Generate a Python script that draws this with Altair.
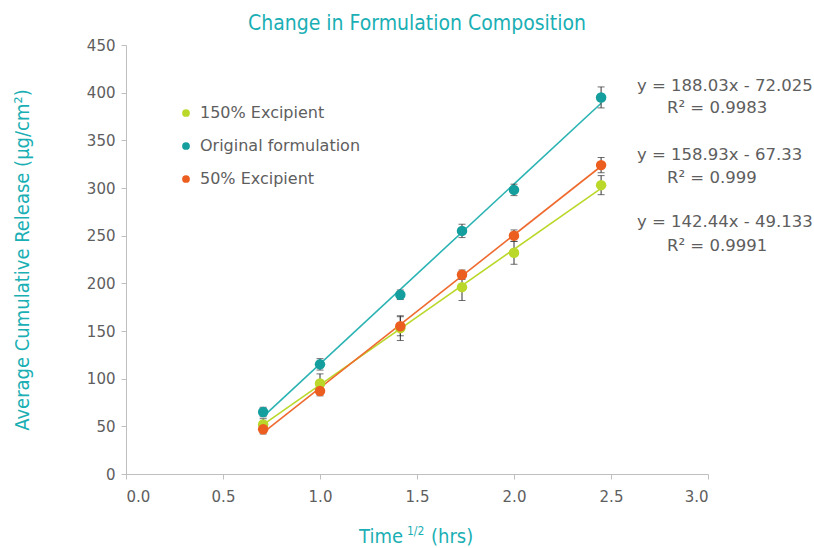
import altair as alt
import pandas as pd

# ---- data ----
time_sqrt = [0.707, 1.0, 1.414, 1.732, 2.0, 2.449]
series_names = ["150% Excipient", "Original formulation", "50% Excipient"]
exc150_vals = [52, 95, 153, 196, 232, 303]
exc150_err = [6, 10, 13, 14, 12, 10]
original_vals = [65, 115, 188, 255, 298, 395]
original_err = [5, 6, 5, 7, 6, 11]
exc50_vals = [47, 87, 155, 209, 250, 324]
exc50_err = [5, 5, 10, 5, 6, 8]
series_colors = ["#B9D82A", "#159E9E", "#EC5E1F"]
line_colors = ["#B9D82A", "#2BB3B3", "#EF6A2E"]

eq_lines = ["y = 188.03x - 72.025", "R\u00b2 = 0.9983",
            "y = 158.93x - 67.33", "R\u00b2 = 0.999",
            "y = 142.44x - 49.133", "R\u00b2 = 0.9991"]

rows = []
for name, vals, errs in [(series_names[0], exc150_vals, exc150_err),
                         (series_names[1], original_vals, original_err),
                         (series_names[2], exc50_vals, exc50_err)]:
    for x, v, e in zip(time_sqrt, vals, errs):
        rows.append({"series": name, "x": x, "y": v, "err": e})
df = pd.DataFrame(rows)

FONT = "DejaVu Sans"
GRAY = "#5E5E5E"
TEAL = "#1AAFB4"

xscale = alt.Scale(domain=[0, 3.0], nice=False)
yscale = alt.Scale(domain=[0, 450], nice=False)

base = alt.Chart(df)

xenc = alt.X("x:Q", scale=xscale,
             axis=alt.Axis(values=[0, 0.5, 1.0, 1.5, 2.0, 2.5, 3.0], format=".1f",
                           title=None, grid=False, domainColor="#BFBFBF", tickColor="#BFBFBF",
                           tickSize=5, labelFont=FONT, labelFontSize=15, labelColor=GRAY,
                           labelPadding=10))
yenc = alt.Y("y:Q", scale=yscale,
             axis=alt.Axis(values=list(range(0, 451, 50)), title="Average Cumulative Release (µg/cm²)",
                           grid=False, domainColor="#BFBFBF", tickColor="#BFBFBF", tickSize=5,
                           labelFont=FONT, labelFontSize=15, labelColor=GRAY, labelPadding=6,
                           titleFont="DejaVu Sans Condensed", titleFontSize=20, titleFontWeight="normal",
                           titleColor=TEAL, titlePadding=54))

color_enc = alt.Color("series:N", scale=alt.Scale(domain=series_names, range=series_colors),
                      legend=alt.Legend(title=None, orient="none", legendX=52, legendY=60,
                                        symbolType="circle", symbolSize=60, symbolStrokeWidth=0,
                                        labelFont=FONT, labelFontSize=16, labelColor=GRAY,
                                        labelLimit=400, rowPadding=17, labelOffset=6))

lines = base.transform_regression("x", "y", groupby=["series"]).mark_line(strokeWidth=1.6).encode(
    x=alt.X("x:Q", scale=xscale),
    y=alt.Y("y:Q", scale=yscale),
    color=alt.Color("series:N", scale=alt.Scale(domain=series_names, range=line_colors), legend=None),
)

err_rule = base.transform_calculate(lo="datum.y - datum.err", hi="datum.y + datum.err").mark_rule(
    color="#333333", strokeWidth=1).encode(
    x=alt.X("x:Q", scale=xscale), y=alt.Y("lo:Q", scale=yscale), y2="hi:Q")
cap_lo = base.transform_calculate(lo="datum.y - datum.err").mark_tick(
    color="#333333", thickness=1, size=7, orient="horizontal").encode(
    x=alt.X("x:Q", scale=xscale), y=alt.Y("lo:Q", scale=yscale))
cap_hi = base.transform_calculate(hi="datum.y + datum.err").mark_tick(
    color="#333333", thickness=1, size=7, orient="horizontal").encode(
    x=alt.X("x:Q", scale=xscale), y=alt.Y("hi:Q", scale=yscale))

points = base.mark_circle(size=110, opacity=1).encode(x=xenc, y=yenc, color=color_enc)

# equations text
eq_x = [511, 541, 511, 541, 511, 541]
eq_y = [41, 63, 110, 133, 177, 201]
eq_layers = []
for t, ex, ey in zip(eq_lines, eq_x, eq_y):
    eq_layers.append(alt.Chart(pd.DataFrame({"t": [t]})).mark_text(
        align="left", baseline="middle", font=FONT, fontSize=16.5, color=GRAY).encode(
        text="t:N", x=alt.value(ex), y=alt.value(ey)))

# x-axis title with superscript
XT_FONT = "DejaVu Sans Condensed"
xt_parts = ["Time", "1/2", "(hrs)"]
xt1 = alt.Chart(pd.DataFrame({"t": [xt_parts[0]]})).mark_text(
    align="right", baseline="middle", font=XT_FONT, fontSize=20, color=TEAL).encode(
    text="t:N", x=alt.value(277), y=alt.value(492))
xt2 = alt.Chart(pd.DataFrame({"t": [xt_parts[1]]})).mark_text(
    align="left", baseline="middle", font=XT_FONT, fontSize=12, color=TEAL).encode(
    text="t:N", x=alt.value(281), y=alt.value(486))
xt3 = alt.Chart(pd.DataFrame({"t": [xt_parts[2]]})).mark_text(
    align="left", baseline="middle", font=XT_FONT, fontSize=20, color=TEAL).encode(
    text="t:N", x=alt.value(305), y=alt.value(492))

chart = alt.layer(lines, err_rule, cap_lo, cap_hi, points, *eq_layers, xt1, xt2, xt3).resolve_scale(
    color="independent"
).properties(
    width=582, height=429,
    title=alt.TitleParams("Change in Formulation Composition", font="DejaVu Sans Condensed",
                          fontSize=21, fontWeight="normal", color=TEAL, anchor="middle", offset=4),
    padding={"left": 126, "top": 45, "right": 106, "bottom": 74},
    autosize=alt.AutoSizeParams(type="none"),
    background="white",
).configure_view(stroke=None)

chart.save("out.html", embed_options={"renderer": "svg", "actions": False})
